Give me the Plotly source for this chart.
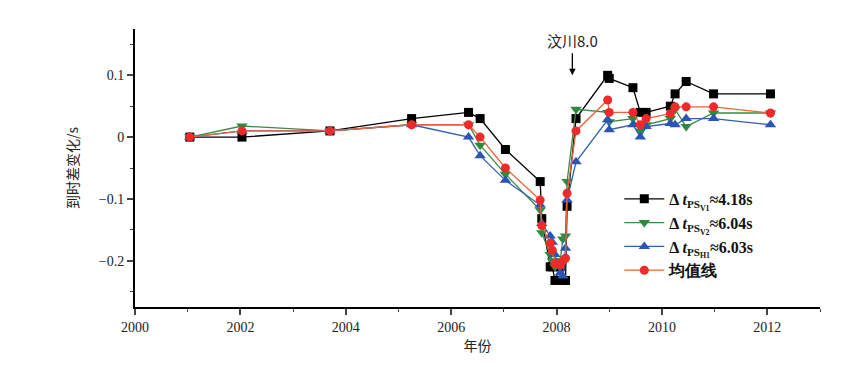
import plotly.graph_objects as go

dates = [2001.04, 2002.03, 2003.70, 2005.25, 2006.33, 2006.55, 2007.03, 2007.69, 2007.72,
         2007.88, 2007.92, 2007.97, 2008.07, 2008.12, 2008.17, 2008.20, 2008.37, 2008.97,
         2009.00, 2009.45, 2009.59, 2009.70, 2010.16, 2010.25, 2010.46, 2010.98, 2012.06]

psv1 = [0, 0, 0.01, 0.03, 0.04, 0.03, -0.02, -0.072, -0.132, -0.21, -0.21, -0.232, -0.21,
        -0.232, -0.232, -0.112, 0.03, 0.1, 0.095, 0.08, 0.04, 0.04, 0.05, 0.07, 0.09, 0.07, 0.07]
psv2 = [0, 0.018, 0.01, 0.02, 0.02, -0.013, -0.06, -0.118, -0.155, -0.19, -0.2, -0.21, -0.2,
        -0.165, -0.16, -0.072, 0.045, 0.04, 0.025, 0.03, 0.01, 0.02, 0.03, 0.045, 0.017, 0.039, 0.039]
psh1 = [0, 0.01, 0.01, 0.02, 0.0, -0.03, -0.07, -0.11, -0.14, -0.16, -0.17, -0.19, -0.22,
        -0.225, -0.18, -0.102, -0.04, 0.028, 0.012, 0.02, 0.0, 0.017, 0.022, 0.02, 0.03, 0.03, 0.02]
mean = [0, 0.01, 0.01, 0.02, 0.02, 0.0, -0.05, -0.102, -0.143, -0.172, -0.183, -0.205, -0.207,
        -0.2, -0.196, -0.091, 0.01, 0.06, 0.04, 0.04, 0.02, 0.03, 0.038, 0.049, 0.049, 0.049, 0.039]

names = ["Δ <i>t</i><sub>PS<sub>V1</sub></sub>≈4.18s",
         "Δ <i>t</i><sub>PS<sub>V2</sub></sub>≈6.04s",
         "Δ <i>t</i><sub>PS<sub>H1</sub></sub>≈6.03s",
         "均值线"]

xticks = [2000, 2002, 2004, 2006, 2008, 2010, 2012]
yticks = [-0.2, -0.1, 0, 0.1]
yticklabels = ["−0.2", "−0.1", "0", "0.1"]

serif = "Liberation Serif, DejaVu Serif, serif"

fig = go.Figure()
styles = [
    (psv1, "#000000", "#000000", "square", 9),
    (psv2, "#3c8a45", "#2e8a3c", "triangle-down", 10),
    (psh1, "#2f5fb0", "#2a55b5", "triangle-up", 10),
    (mean, "#f0603a", "#ee2a2a", "circle", 9),
]
for (vals, lc, mc, sym, sz), nm in zip(styles, names):
    fig.add_trace(go.Scatter(
        x=dates, y=vals, name=nm, mode="lines+markers",
        line=dict(color=lc, width=1.3),
        marker=dict(symbol=sym, size=sz, color=mc, line=dict(width=0)),
    ))

fig.add_annotation(x=2008.3, y=0.1, xref="x", yref="y", text="汶川8.0",
                   showarrow=True, arrowhead=2, arrowsize=1, arrowwidth=1.3,
                   arrowcolor="black", ax=0, ay=-22, yanchor="bottom",
                   font=dict(family="Noto Sans CJK SC, " + serif, size=15, color="#222"))

fig.update_layout(
    width=856, height=359,
    margin=dict(l=127, r=44, t=21, b=60, autoexpand=False),
    paper_bgcolor="white", plot_bgcolor="white",
    showlegend=True,
    legend=dict(x=0.707, y=0.45, xanchor="left", yanchor="top",
                font=dict(family=serif, size=16, color="#111", weight="bold"),
                bgcolor="rgba(0,0,0,0)", itemwidth=40, tracegroupgap=0),
    xaxis=dict(range=[2000, 2013], tickvals=xticks, ticks="outside", ticklen=6,
               tickwidth=1.5, showline=True, linewidth=2, linecolor="black",
               showgrid=False, zeroline=False, mirror=False, automargin=False,
               minor=dict(dtick=1, tick0=2000, ticks="outside", ticklen=3, tickwidth=1.2, showgrid=False),
               tickfont=dict(family=serif, size=14, color="#222"),
               title=dict(text="年份", font=dict(family="Noto Sans CJK SC", size=14, color="#222"), standoff=4)),
    yaxis=dict(range=[-0.275, 0.175], tickvals=yticks, ticktext=yticklabels, ticks="outside",
               ticklen=6, tickwidth=1.5, showline=True, linewidth=2, linecolor="black",
               showgrid=False, zeroline=False, automargin=False,
               minor=dict(dtick=0.05, tick0=0, ticks="outside", ticklen=3, tickwidth=1.2, showgrid=False),
               tickfont=dict(family=serif, size=14, color="#222"),
               title=dict(text="到时差变化/s", font=dict(family="Noto Sans CJK SC", size=14, color="#222"), standoff=17)),
)

fig.write_html("out.html")
